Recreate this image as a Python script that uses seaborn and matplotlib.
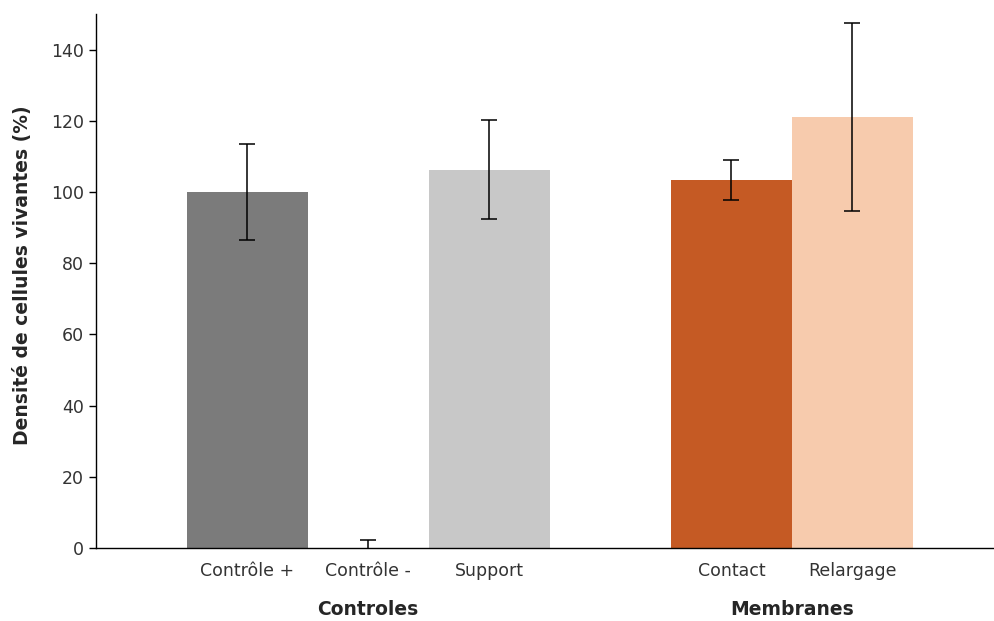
import pandas as pd
import matplotlib
matplotlib.use("Agg")
import matplotlib.pyplot as plt
import seaborn as sns

# Data
conditions = ["Contrôle +", "Contrôle -", "Support", "Contact", "Relargage"]
groups = ["Controles", "Controles", "Controles", "Membranes", "Membranes"]
densite = [100.0, 0.0, 106.3, 103.3, 121.2]
erreur = [13.5, 2.3, 14.0, 5.6, 26.4]
couleurs = ["#7b7b7b", "#7b7b7b", "#c8c8c8", "#c55a24", "#f7cbad"]

# blank slot between the two groups
order = ["Contrôle +", "Contrôle -", "Support", " ", "Contact", "Relargage"]

df = pd.DataFrame({"condition": conditions, "groupe": groups,
                   "densite": densite, "erreur": erreur})

sns.set_style("white")
plt.rcParams["font.family"] = ["DejaVu Sans"]

fig = plt.figure(figsize=(9.94, 6.21), dpi=100)
ax = fig.add_axes([0.0966, 0.1176, 0.9034, 0.8598])

sns.barplot(data=df, x="condition", y="densite", hue="condition", order=order,
            palette=dict(zip(conditions, couleurs)), width=1.0, legend=False,
            errorbar=None, saturation=1, linewidth=0, ax=ax)

pos = [order.index(c) for c in df["condition"]]
ax.errorbar(pos, df["densite"], yerr=df["erreur"], fmt="none", ecolor="black",
            elinewidth=1.1, capsize=5.5, capthick=1.1)

ax.set_ylim(0, 150)
ax.set_xlim(-1.248, 6.17)
ax.set_yticks(range(0, 141, 20))
ax.set_xticks(range(len(order)))
ax.set_xticklabels(order)
ax.tick_params(axis="x", length=0, pad=10, labelsize=12.5, colors="#333333")
ax.tick_params(axis="y", length=5, width=1, direction="out", left=True,
               labelsize=12.5, colors="#333333")
ax.tick_params(axis="y", color="black")

for side in ["top", "right"]:
    ax.spines[side].set_visible(False)
for side in ["left", "bottom"]:
    ax.spines[side].set_color("black")
    ax.spines[side].set_linewidth(1)

ax.set_xlabel("")
ax.set_ylabel("Densité de cellules vivantes (%)", fontsize=13.5,
              fontweight="bold")
ax.yaxis.set_label_coords(-0.071, 0.51)

# group labels under the ticks
for g in ["Controles", "Membranes"]:
    p = [order.index(c) for c in df.loc[df["groupe"] == g, "condition"]]
    ax.annotate(g, xy=(sum(p) / len(p), -0.116), xycoords=("data", "axes fraction"),
                ha="center", va="center", fontsize=13.5, fontweight="bold")

fig.savefig("out.png", dpi=100)
